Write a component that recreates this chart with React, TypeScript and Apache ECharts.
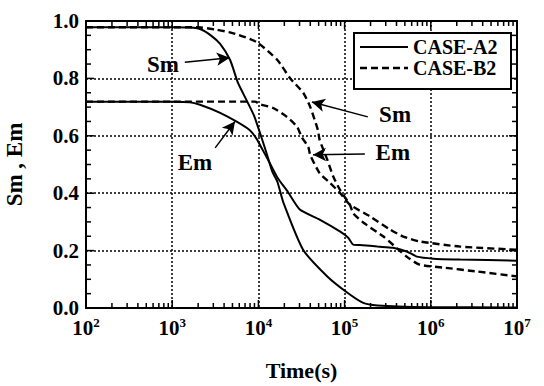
import React, { useEffect, useRef } from "react";
import * as echarts from "echarts";

const FONT = "Liberation Serif";

// Time (s) and values
const smA2Time = [100, 1000, 1600, 2100, 2800, 3600, 4700, 5800, 7400, 8900, 10700, 12600, 14500, 16600, 19500, 33000, 63000, 107000, 162000, 240000, 900000, 10000000];
const smA2Val = [0.978, 0.978, 0.977, 0.972, 0.95, 0.92, 0.864, 0.784, 0.72, 0.67, 0.6, 0.534, 0.475, 0.44, 0.367, 0.203, 0.11, 0.054, 0.019, 0.009, 0.003, 0.002];

const emA2Time = [100, 1000, 1600, 2100, 3600, 5600, 7900, 9500, 11200, 13500, 16600, 21900, 30200, 51300, 89000, 110000, 126000, 162000, 240000, 363000, 525000, 692000, 1070000, 2190000, 10000000];
const emA2Val = [0.719, 0.719, 0.717, 0.708, 0.68, 0.649, 0.62, 0.59, 0.551, 0.506, 0.455, 0.405, 0.343, 0.308, 0.266, 0.245, 0.221, 0.219, 0.214, 0.21, 0.197, 0.179, 0.172, 0.169, 0.165];

const smB2Time = [100, 1000, 2000, 3200, 5000, 9500, 16600, 23400, 33100, 40000, 49000, 51300, 63100, 74100, 89100, 115000, 126000, 166000, 282000, 525000, 741000, 1380000, 3470000, 10000000];
const smB2Val = [0.978, 0.978, 0.978, 0.97, 0.958, 0.927, 0.864, 0.8, 0.75, 0.7, 0.62, 0.586, 0.516, 0.457, 0.41, 0.36, 0.33, 0.297, 0.249, 0.179, 0.151, 0.141, 0.127, 0.11];

const emB2Time = [100, 1000, 9100, 10500, 14800, 21400, 28200, 31600, 38000, 39800, 51300, 67600, 89100, 115000, 195000, 339000, 479000, 741000, 2190000, 10000000];
const emB2Val = [0.719, 0.719, 0.719, 0.71, 0.697, 0.666, 0.631, 0.597, 0.56, 0.534, 0.47, 0.436, 0.4, 0.36, 0.32, 0.273, 0.249, 0.232, 0.214, 0.203];

const legendNames = ["CASE-A2", "CASE-B2"];
const yTickLabels = ["0.0", "0.2", "0.4", "0.6", "0.8", "1.0"];
const xMajorTicks = [1000, 10000, 100000, 1000000];
const xMinorTicks = [
  200, 300, 400, 500, 600, 700, 800, 900,
  2000, 3000, 4000, 5000, 6000, 7000, 8000, 9000,
  20000, 30000, 40000, 50000, 60000, 70000, 80000, 90000,
  200000, 300000, 400000, 500000, 600000, 700000, 800000, 900000,
  2000000, 3000000, 4000000, 5000000, 6000000, 7000000, 8000000, 9000000,
];
const yMajorTicks = [0.2, 0.4, 0.6, 0.8];
const yMinorTicks = [0.05, 0.1, 0.15, 0.25, 0.3, 0.35, 0.45, 0.5, 0.55, 0.65, 0.7, 0.75, 0.85, 0.9, 0.95];
const X_MIN = 100;
const X_MAX = 10000000;

// annotations: [label, textPos, arrowFrom, arrowTo]
const annotations: [string, number[], number[], number[]][] = [
  ["Sm", [780, 0.85], [1400, 0.856], [4650, 0.872]],
  ["Em", [1840, 0.506], [3150, 0.558], [5350, 0.65]],
  ["Sm", [385000, 0.673], [186000, 0.666], [41700, 0.718]],
  ["Em", [363000, 0.541], [172000, 0.537], [43000, 0.534]],
];

const zip = (t: number[], v: number[]) => t.map((x, i) => [x, v[i]]);

export default function App() {
  const ref = useRef<HTMLDivElement>(null);
  useEffect(() => {
    document.body.style.margin = "0";
    const chart = echarts.init(ref.current!, null, { renderer: "svg" });
    const gridStyle = { color: "#000", width: 1.5, type: [2, 2] as any };
    const solid = { color: "#000", width: 2, type: "solid" as const };
    const dashed = { color: "#000", width: 2.4, type: [7, 4] as any };
    const txt = { fontFamily: FONT, fontWeight: "bold" as const, fill: "#000", fontSize: 20 };

    const logAxis = (extra: any) => ({
      type: "log",
      logBase: 10,
      min: X_MIN,
      max: X_MAX,
      splitNumber: 5,
      axisLine: { show: true, onZero: false, lineStyle: { color: "#000", width: 2 } },
      axisTick: { show: false },
      ...extra,
    });
    const valAxis = (extra: any) => ({
      type: "value",
      min: 0,
      max: 1,
      interval: 0.2,
      axisLine: { show: true, lineStyle: { color: "#000", width: 2 } },
      axisTick: { show: false },
      ...extra,
    });

    chart.setOption({
      animation: false,
      backgroundColor: "#fff",
      grid: { left: 86, right: 27, top: 21, bottom: 78, containLabel: false, outerBoundsMode: "none" },
      xAxis: [
        logAxis({
          position: "bottom",
          name: "Time(s)",
          nameLocation: "middle",
          nameGap: 51,
          nameTextStyle: { fontFamily: FONT, fontSize: 22, fontWeight: "bold", color: "#000" },
          axisLabel: {
            show: true,
            margin: 8,
            color: "#000",
            formatter: (v: number) => `{b|10}{s|${Math.round(Math.log10(v))}}`,
            rich: {
              b: { fontFamily: FONT, fontSize: 21, fontWeight: "bold", color: "#000" },
              s: { fontFamily: FONT, fontSize: 13, fontWeight: "bold", color: "#000", padding: [0, 0, 11, 0] },
            },
          },
          splitLine: { show: true, lineStyle: gridStyle },
        }),
        logAxis({ position: "top", axisLabel: { show: false }, splitLine: { show: false } }),
      ],
      yAxis: [
        valAxis({
          position: "left",
          name: "Sm , Em",
          nameLocation: "middle",
          nameGap: 60,
          nameTextStyle: { fontFamily: FONT, fontSize: 23, fontWeight: "bold", color: "#000" },
          axisLabel: {
            show: true,
            margin: 7,
            fontFamily: FONT,
            fontSize: 21,
            fontWeight: "bold",
            color: "#000",
            formatter: (v: number) => yTickLabels[Math.round(v / 0.2)],
          },
          splitLine: { show: true, lineStyle: gridStyle },
        }),
        valAxis({ position: "right", axisLabel: { show: false }, splitLine: { show: false } }),
      ],
      series: [
        {
          name: legendNames[0],
          type: "line",
          symbol: "none",
          smooth: 0.2,
          lineStyle: solid,
          itemStyle: { color: "#000" },
          data: zip(smA2Time, smA2Val),
          markLine: {
            silent: true,
            symbol: ["none", "arrow"],
            symbolSize: [10, 13],
            label: { show: false },
            lineStyle: { color: "#000", width: 1.5, type: "solid" },
            data: annotations.map((a) => [{ coord: a[2] }, { coord: a[3] }]),
          },
          markPoint: {
            silent: true,
            symbol: "rect",
            symbolSize: 1,
            itemStyle: { color: "rgba(0,0,0,0)" },
            data: annotations.map((a) => ({
              coord: a[1],
              label: {
                show: true,
                position: "inside",
                formatter: a[0],
                fontFamily: FONT,
                fontSize: 23,
                fontWeight: "bold",
                color: "#000",
              },
            })),
          },
        },
        {
          name: legendNames[0],
          type: "line",
          symbol: "none",
          smooth: 0.2,
          lineStyle: solid,
          itemStyle: { color: "#000" },
          data: zip(emA2Time, emA2Val),
        },
        {
          name: legendNames[1],
          type: "line",
          symbol: "none",
          smooth: 0.2,
          lineStyle: dashed,
          itemStyle: { color: "#000" },
          data: zip(smB2Time, smB2Val),
        },
        {
          name: legendNames[1],
          type: "line",
          symbol: "none",
          smooth: 0.2,
          lineStyle: dashed,
          itemStyle: { color: "#000" },
          data: zip(emB2Time, emB2Val),
        },
      ],
    });

    // axis ticks (inside, on all four sides), positioned through the chart's own scales
    const finder = { xAxisIndex: 0, yAxisIndex: 0 };
    const toPx = (x: number, y: number) => chart.convertToPixel(finder, [x, y]) as number[];
    const tickStyle = { stroke: "#000", lineWidth: 1.5 };
    const ticks: any[] = [];
    const xTick = (t: number, len: number) => {
      const b = toPx(t, 0);
      const tp = toPx(t, 1);
      ticks.push({ type: "line", silent: true, z: 50, shape: { x1: b[0], y1: b[1], x2: b[0], y2: b[1] - len }, style: tickStyle });
      ticks.push({ type: "line", silent: true, z: 50, shape: { x1: tp[0], y1: tp[1], x2: tp[0], y2: tp[1] + len }, style: tickStyle });
    };
    const yTick = (v: number, len: number) => {
      const l = toPx(X_MIN, v);
      const r = toPx(X_MAX, v);
      ticks.push({ type: "line", silent: true, z: 50, shape: { x1: l[0], y1: l[1], x2: l[0] + len, y2: l[1] }, style: tickStyle });
      ticks.push({ type: "line", silent: true, z: 50, shape: { x1: r[0], y1: r[1], x2: r[0] - len, y2: r[1] }, style: tickStyle });
    };
    xMajorTicks.forEach((t) => xTick(t, 8));
    xMinorTicks.forEach((t) => xTick(t, 5));
    yMajorTicks.forEach((v) => yTick(v, 8));
    yMinorTicks.forEach((v) => yTick(v, 5));

    chart.setOption({
      graphic: [
        { type: "rect", left: 353, top: 32, z: 100, shape: { width: 157, height: 56 }, style: { fill: "#fff", stroke: "#000", lineWidth: 2 } },
        { type: "line", z: 101, shape: { x1: 360, y1: 47, x2: 408, y2: 47 }, style: { stroke: "#000", lineWidth: 2 } },
        { type: "line", z: 101, shape: { x1: 360, y1: 68, x2: 408, y2: 68 }, style: { stroke: "#000", lineWidth: 2.4, lineDash: [7, 4] } },
        { type: "text", z: 101, x: 413, y: 47, style: { ...txt, text: legendNames[0], verticalAlign: "middle" } },
        { type: "text", z: 101, x: 413, y: 68, style: { ...txt, text: legendNames[1], verticalAlign: "middle" } },
        ...ticks,
      ],
    });
    return () => chart.dispose();
  }, []);
  return <div ref={ref} style={{ position: "fixed", left: 0, top: 0, width: 544, height: 386 }} />;
}
